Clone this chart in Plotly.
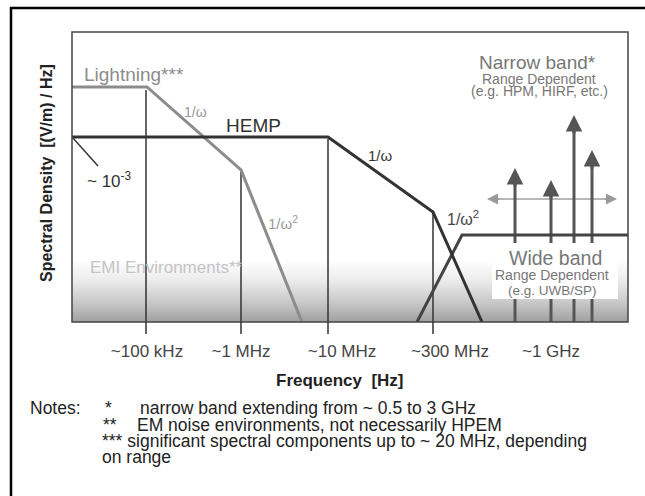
import plotly.graph_objects as go

# ---------------- data (schematic units) ----------------
lightning_x = [0, 75, 169, 230]
lightning_y = [235, 235, 152, 0]
hemp_x = [0, 256, 361, 410]
hemp_y = [185, 185, 110, 0]
wideband_x = [345, 390, 556]
wideband_y = [0, 87, 87]
slope_x = [0, 26]
slope_y = [185, 156]
ref_x = [74, 169, 256, 361]
ref_top = [232, 150, 183, 109]
narrow_x = [443, 479, 502, 520]
narrow_top = [154, 142, 207, 172]
spread_x = [415, 545]
spread_y = 123
tick_pos = [75, 169, 270, 378, 479]
tick_text = ["~100 kHz", "~1 MHz", "~10 MHz", "~300 MHz", "~1 GHz"]

FONT = "Arial, Liberation Sans, sans-serif"
W, H = 645, 496
L, R, T, B = 72, 628, 32, 322
PW, PH = R - L, B - T


def px(xp):
    return (xp - L) / PW


def py(yp):
    return (B - yp) / PH


fig = go.Figure()

# horizontal spread arrow shaft (behind vertical arrows)
fig.add_trace(go.Scatter(x=[spread_x[0] + 6, spread_x[1] - 6], y=[spread_y, spread_y],
                         mode="lines", line=dict(color="#a0a0a0", width=1.3), hoverinfo="skip"))
# reference (tick) lines inside plot
for x, top in zip(ref_x, ref_top):
    fig.add_trace(go.Scatter(x=[x, x], y=[top, 0], mode="lines",
                             line=dict(color="#333333", width=1.5), hoverinfo="skip"))
# narrow band arrow shafts
for x, top in zip(narrow_x, narrow_top):
    fig.add_trace(go.Scatter(x=[x, x], y=[0, top - 6], mode="lines",
                             line=dict(color="#555555", width=3), hoverinfo="skip"))
fig.add_trace(go.Scatter(x=lightning_x, y=lightning_y, mode="lines",
                         line=dict(color="#8c8c8c", width=3), hoverinfo="skip"))
fig.add_trace(go.Scatter(x=wideband_x, y=wideband_y, mode="lines",
                         line=dict(color="#444444", width=3), hoverinfo="skip"))
fig.add_trace(go.Scatter(x=hemp_x, y=hemp_y, mode="lines",
                         line=dict(color="#333333", width=3), hoverinfo="skip"))
fig.add_trace(go.Scatter(x=slope_x, y=slope_y, mode="lines",
                         line=dict(color="#333333", width=1.5), hoverinfo="skip"))

shapes = []
# gradient at bottom of plot
anchors = [(260, 255), (280, 236), (301, 203), (322, 160)]
step = 2
yp = anchors[0][0]
while yp < B:
    y_mid = yp + step / 2
    for (a0, c0), (a1, c1) in zip(anchors[:-1], anchors[1:]):
        if a0 <= y_mid <= a1:
            c = int(round(c0 + (c1 - c0) * (y_mid - a0) / (a1 - a0)))
            break
    shapes.append(dict(type="rect", xref="paper", yref="paper", x0=0, x1=1,
                       y0=py(min(yp + step, B)), y1=py(yp), line=dict(width=0),
                       fillcolor=f"rgb({c},{c},{c})", layer="below"))
    yp += step

# white box behind "Wide band"
shapes.append(dict(type="rect", xref="paper", yref="paper", x0=px(492), x1=px(618),
                   y0=py(299), y1=py(243), line=dict(width=0), fillcolor="white",
                   layer="above"))
# plot frame
shapes.append(dict(type="rect", xref="paper", yref="paper", x0=0, x1=1, y0=0, y1=1,
                   line=dict(color="#444444", width=1.5), layer="above"))
# tick extensions below axis
for x in ref_x:
    shapes.append(dict(type="line", xref="x", yref="paper", x0=x, x1=x, y0=0, y1=py(334),
                       line=dict(color="#333333", width=1.5)))
# outer border: only top and left edges are inside the picture
shapes.append(dict(type="line", xref="paper", yref="paper", x0=px(10), x1=px(W),
                   y0=py(8), y1=py(8), line=dict(color="black", width=2.5)))
shapes.append(dict(type="line", xref="paper", yref="paper", x0=px(11), x1=px(11),
                   y0=py(7), y1=py(H), line=dict(color="black", width=2.5)))

ann = []
# arrow heads
for x, top in zip(narrow_x, narrow_top):
    ann.append(dict(x=x, y=top, ax=x, ay=top - 20, xref="x", yref="y", axref="x", ayref="y",
                    text="", showarrow=True, arrowhead=2, arrowsize=1.1, arrowwidth=3,
                    arrowcolor="#555555"))
ann.append(dict(x=spread_x[0], y=spread_y, ax=spread_x[0] + 14, ay=spread_y, xref="x", yref="y",
                axref="x", ayref="y", text="", showarrow=True, arrowhead=2,
                arrowsize=1.7, arrowwidth=1.3, arrowcolor="#999999"))
ann.append(dict(x=spread_x[1], y=spread_y, ax=spread_x[1] - 14, ay=spread_y, xref="x", yref="y",
                axref="x", ayref="y", text="", showarrow=True, arrowhead=2,
                arrowsize=1.7, arrowwidth=1.3, arrowcolor="#999999"))


def txt(x, y, s, size, color, xanchor="center", xref="x", yref="y", **kw):
    ann.append(dict(x=x, y=y, xref=xref, yref=yref, text=s, showarrow=False,
                    xanchor=xanchor, yanchor="middle",
                    font=dict(family=FONT, size=size, color=color), **kw))


txt(10, 248, "Lightning***", 19, "#8c8c8c", xanchor="left")
txt(123, 210, "1/ω", 14, "#999999")
txt(181, 197, "HEMP", 19, "#333333")
txt(13, 142, "~ 10<sup>-3</sup>", 17, "#333333", xanchor="left")
txt(211, 100, "1/ω<sup>2</sup>", 15, "#999999")
txt(16, 55, "EMI Environments**", 17, "#c4c4c4", xanchor="left")
txt(308, 167, "1/ω", 15, "#333333")
txt(391, 104, "1/ω<sup>2</sup>", 16, "#444444")
txt(465, 260, "Narrow band*", 19, "#777777")
txt(467, 243, "Range Dependent", 14, "#777777")
txt(467, 231, "(e.g. HPM, HIRF, etc.)", 14, "#777777")
txt(px(555), py(258), "Wide band", 19.5, "#777777", xref="paper", yref="paper")
txt(px(552), py(275), "Range Dependent", 14, "#777777", xref="paper", yref="paper")
txt(px(552), py(290), "(e.g. UWB/SP)", 13.5, "#777777", xref="paper", yref="paper")

# axis titles
txt(px(340), py(380), "<b>Frequency  [Hz]</b>", 17, "#222222", xref="paper", yref="paper")
txt(px(46), py(173), "<b>Spectral Density  [(V/m) / Hz]</b>", 16, "#222222",
    xref="paper", yref="paper", textangle=-90)

# notes
notes = [
    (28, 408, "Notes:"),
    (103, 408, "*"),
    (138, 408, "narrow band extending from ~ 0.5 to 3 GHz"),
    (101, 425, "**"),
    (135, 425, "EM noise environments, not necessarily HPEM"),
    (100, 441, "*** significant spectral components up to ~ 20 MHz, depending"),
    (100, 457, "on range"),
]
for xx, yy, s in notes:
    txt(px(xx), py(yy), s, 17.5, "#222222", xanchor="left", xref="paper", yref="paper")

fig.update_layout(
    width=W, height=H,
    margin=dict(l=L, r=W - R, t=T, b=H - B, pad=0),
    paper_bgcolor="white", plot_bgcolor="white",
    showlegend=False,
    shapes=shapes, annotations=ann,
    xaxis=dict(range=[0, PW], showgrid=False, zeroline=False, showline=False,
               tickvals=tick_pos, ticktext=tick_text, ticks="outside", ticklen=14,
               tickcolor="rgba(0,0,0,0)",
               tickfont=dict(family=FONT, size=17, color="#444444"), fixedrange=True),
    yaxis=dict(range=[0, PH], showgrid=False, zeroline=False, showline=False,
               showticklabels=False, ticks="", fixedrange=True),
)

fig.write_html("out.html", config={"displayModeBar": False})
